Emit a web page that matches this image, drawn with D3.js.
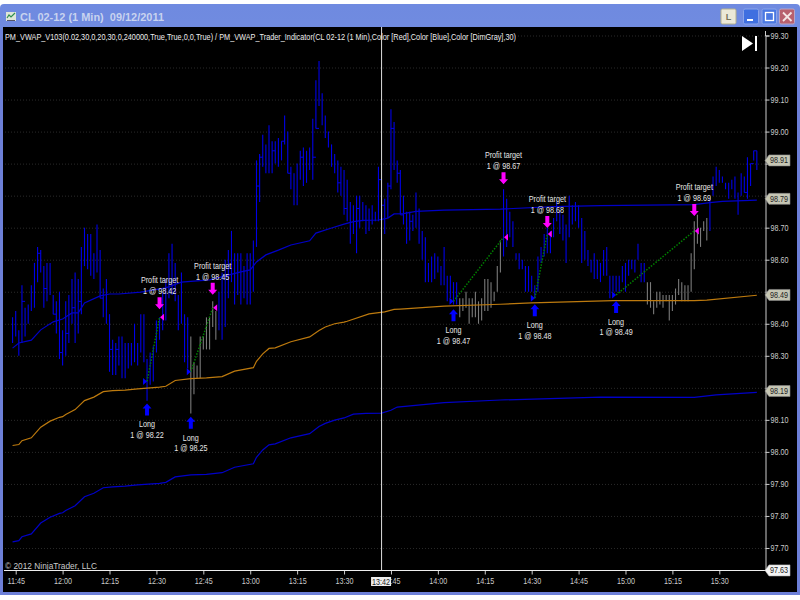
<!DOCTYPE html>
<html><head><meta charset="utf-8">
<script src="https://cdn.jsdelivr.net/npm/d3@7"></script>
<style>html,body{margin:0;padding:0;background:#fff}svg{display:block}
text{font-family:"Liberation Sans",Arial,sans-serif;white-space:pre}</style></head>
<body><div id="chart"></div>
<script>
const titleText = "CL 02-12 (1 Min)  09/12/2011";
const indicatorText = "PM_VWAP_V103(0.02,30,0,20,30,0,240000,True,True,0,0,True) / PM_VWAP_Trader_Indicator(CL 02-12 (1 Min),Color [Red],Color [Blue],Color [DimGray],30)";
const copyrightText = "\u00a9 2012 NinjaTrader, LLC";
const priceTicks = [99.3,99.2,99.1,99.0,98.9,98.8,98.7,98.6,98.5,98.4,98.3,98.2,98.1,98.0,97.9,97.8,97.7];
const timeTicks = ["11:45","12:00","12:15","12:30","12:45","13:00","13:15","13:30","13:45","14:00","14:15","14:30","14:45","15:00","15:15","15:30"];
const firstBar = "11:44";
const highs = [
98.42,98.44,98.38,98.52,98.45,98.46,98.52,98.59,98.64,98.63,98.58,98.59,98.59,98.49,98.47,98.50,
98.38,98.47,98.49,98.54,98.56,98.54,98.64,98.70,98.68,98.68,98.62,98.71,98.63,98.51,98.54,
98.43,98.35,98.34,98.36,98.36,98.34,98.34,98.34,98.40,98.34,98.43,98.43,98.29,98.31,98.33,
98.41,98.42,98.50,98.54,98.62,98.65,98.59,98.49,98.56,98.43,98.42,
98.36,98.28,98.27,98.36,98.36,98.42,98.42,98.47,98.44,
98.50,98.56,98.60,98.63,98.69,98.62,98.62,98.62,98.58,98.62,
98.62,98.66,98.91,98.93,98.99,98.96,99.02,98.97,98.97,98.98,98.97,99.05,99.00,98.89,98.87,
98.90,98.94,98.95,98.94,98.95,99.04,99.16,99.22,99.12,99.05,99.00,98.96,98.93,98.91,98.89,
98.88,98.85,98.78,98.77,98.80,98.80,98.78,98.77,98.76,98.77,98.75,98.89,98.76,98.79,98.84,
99.07,99.03,98.91,98.88,98.80,98.75,98.75,98.74,98.81,98.76,98.69,98.67,98.59,98.61,98.62,
98.61,98.58,98.64,98.55,98.55,98.53,98.53,
98.48,98.48,98.50,98.48,98.48,98.50,98.47,98.48,98.54,98.54,98.53,98.50,98.58,98.66,
98.82,98.79,98.75,98.72,98.62,98.62,98.60,98.58,98.58,98.55,98.52,98.61,98.64,98.68,98.70,
98.69,98.73,98.78,98.75,98.74,98.71,98.80,98.77,98.78,98.77,98.73,98.69,98.63,98.60,98.62,
98.60,98.59,98.63,98.64,98.55,98.55,98.55,98.55,98.58,98.59,98.60,98.60,98.60,98.65,98.59,98.59,
98.53,98.53,98.47,98.50,98.50,98.49,98.49,98.49,98.49,98.51,98.54,98.53,98.52,98.52,98.62,98.72,98.74,98.70,98.72,98.73,
98.79,98.86,98.89,98.88,98.86,98.84,98.84,98.85,98.86,98.81,98.87,98.86,98.92,98.90,98.94,98.94];
const lows = [
98.34,98.36,98.30,98.34,98.36,98.40,98.44,98.45,98.53,98.56,98.45,98.47,98.49,98.43,98.37,98.29,
98.27,98.30,98.34,98.40,98.34,98.37,98.43,98.58,98.57,98.55,98.54,98.56,98.48,98.42,98.40,
98.25,98.24,98.24,98.27,98.23,98.23,98.26,98.27,98.28,98.27,98.31,98.28,98.16,98.21,98.22,
98.31,98.35,98.38,98.41,98.48,98.49,98.47,98.38,98.40,98.28,98.26,
98.12,98.18,98.23,98.23,98.32,98.32,98.32,98.39,98.35,
98.38,98.35,98.39,98.48,98.53,98.46,98.49,98.46,98.48,98.46,
98.46,98.50,98.64,98.78,98.89,98.87,98.87,98.87,98.90,98.89,98.91,98.96,98.87,98.82,98.77,
98.77,98.85,98.83,98.84,98.88,98.85,99.01,99.08,99.02,98.98,98.95,98.89,98.87,98.81,98.80,
98.74,98.72,98.65,98.68,98.62,98.70,98.72,98.68,98.69,98.71,98.72,98.72,98.72,98.68,98.73,
98.82,98.88,98.84,98.74,98.71,98.65,98.66,98.69,98.70,98.65,98.60,98.53,98.53,98.53,98.54,
98.56,98.52,98.52,98.47,98.48,98.46,98.46,
98.42,98.44,98.45,98.40,98.42,98.42,98.40,98.41,98.44,98.44,98.45,98.47,98.50,98.56,
98.61,98.64,98.67,98.64,98.60,98.57,98.57,98.50,98.50,98.50,98.48,98.50,98.59,98.61,98.62,
98.62,98.67,98.72,98.68,98.66,98.59,98.67,98.71,98.72,98.70,98.59,98.60,98.58,98.56,98.54,
98.54,98.53,98.55,98.55,98.48,98.50,98.50,98.50,98.53,98.50,98.55,98.57,98.56,98.60,98.53,98.53,
98.46,98.45,98.43,98.45,98.46,98.45,98.47,98.41,98.44,98.46,98.49,98.47,98.47,98.47,98.50,98.57,98.65,98.64,98.69,98.66,
98.69,98.80,98.83,98.84,98.84,98.82,98.79,98.82,98.79,98.74,98.80,98.81,98.79,98.83,98.91,98.88];
const greyBarRuns = [["12:41","12:49"],["14:07","14:20"],["15:07","15:26"]];
// the close ticks that can be made out on the bars
const closeTickTimes = ["11:47","11:52","11:54","11:57","11:59","12:01","12:03","12:05","12:12","12:15","12:17","13:02","13:03","13:07","13:10","13:12","13:16","13:20","13:21","13:28","13:30","13:34","13:41","13:42","13:44","13:45","13:47","13:48","13:51","15:38","15:40","15:41"];
const closeTickPrices = [98.47,98.62,98.51,98.43,98.31,98.37,98.45,98.47,98.48,98.32,98.32,98.83,98.92,98.94,98.97,98.87,98.92,98.92,99.01,98.84,98.76,98.76,98.85,98.77,98.83,99.01,98.87,98.74,98.72,98.81,98.90,98.94];

const upperMinutes = [0,2,6,9,13,16,19,21,23,28,31,34,41,49,54,63,73,76,78,81,85,89,95,97,102,106,109,112,117,120,122,125,129,138,156,173,188,218,223,227,238];
const upperPrices = [98.324,98.340,98.349,98.381,98.406,98.415,98.434,98.434,98.465,98.487,98.493,98.493,98.499,98.512,98.530,98.537,98.562,98.568,98.593,98.615,98.630,98.646,98.659,98.683,98.699,98.711,98.719,98.723,98.724,98.730,98.743,98.744,98.751,98.755,98.758,98.766,98.769,98.772,98.778,98.782,98.786];
const midMinutes = [0,2,3,6,9,12,15,16,17,20,23,26,29,32,36,40,47,49,52,57,62,67,71,77,78,80,82,84,89,95,98,100,103,106,107,114,119,122,124,138,156,166,192,218,222,238];
const midPrices = [98.020,98.023,98.035,98.044,98.077,98.096,98.108,98.110,98.117,98.132,98.160,98.171,98.188,98.191,98.193,98.197,98.202,98.205,98.223,98.229,98.231,98.235,98.252,98.263,98.283,98.306,98.323,98.325,98.344,98.359,98.379,98.390,98.400,98.405,98.408,98.431,98.437,98.445,98.446,98.455,98.461,98.465,98.472,98.472,98.474,98.489];
const lowerMinutes = [0,2,3,6,9,12,15,16,17,20,23,26,29,32,36,40,47,49,52,57,62,67,71,77,78,80,82,84,89,95,98,100,103,106,109,113,118,121,123,138,156,188,218,225,238];
const lowerPrices = [97.719,97.723,97.735,97.744,97.778,97.796,97.808,97.810,97.817,97.832,97.860,97.871,97.888,97.891,97.893,97.897,97.902,97.905,97.922,97.928,97.930,97.935,97.952,97.963,97.983,98.006,98.022,98.025,98.044,98.057,98.079,98.089,98.099,98.106,98.118,98.120,98.121,98.130,98.140,98.154,98.162,98.171,98.170,98.178,98.186];

const entryTimes = ["12:27","12:41","14:05","14:31","14:57"];
const entryPrices = [98.22,98.25,98.47,98.48,98.49];
const exitTimes = ["12:31","12:48","14:21","14:35","15:22"];
const exitPrices = [98.42,98.45,98.67,98.68,98.69];
const priceFlags = [98.91,98.79,98.49,98.19];
const lastLowFlag = 97.63;
const cursorTime = "13:42";

const W = 800, H = 600;
const parseT = s => { const [h,m] = s.split(":").map(Number); return new Date(2011,8,12,h,m); };
const t0 = parseT(firstBar);
const atMin = m => d3.timeMinute.offset(t0, m);
const x = d3.scaleTime().domain([parseT("11:45"), parseT("15:30")]).range([15.7, 719.3]);
const y = d3.scaleLinear().domain([99.3, 97.63]).range([35.5, 570.4]);
const fmt = d3.format(".2f");

const svg = d3.select("#chart").append("svg").attr("width",W).attr("height",H);
const defs = svg.append("defs");
const g1 = defs.append("linearGradient").attr("id","tb").attr("x1",0).attr("x2",0).attr("y1",0).attr("y2",1);
g1.append("stop").attr("offset",0).attr("stop-color","#6f8ae0");
g1.append("stop").attr("offset",0.5).attr("stop-color","#7e98e0");
g1.append("stop").attr("offset",1).attr("stop-color","#7590dc");

// window frame
svg.append("rect").attr("x",0).attr("y",4).attr("width",W).attr("height",591).attr("rx",4).attr("fill","url(#tb)");
svg.append("rect").attr("x",0).attr("y",30).attr("width",W).attr("height",565).attr("fill","#6d80d8");
svg.append("rect").attr("x",3).attr("y",27).attr("width",794).attr("height",565).attr("fill","#000");

// title bar
svg.append("g").attr("transform","translate(6,12)").call(s=>{
  s.append("rect").attr("width",10).attr("height",9).attr("fill","#dfe6d8");
  s.append("path").attr("d","M1 6L3 3L5 5L9 1").attr("fill","none").attr("stroke","#2f8f4f").attr("stroke-width",1.2);
  s.append("path").attr("d","M1 8.5H9").attr("stroke","#556").attr("stroke-width",1);
});
svg.append("text").attr("class","fixed").text(titleText).attr("x",20).attr("y",21)
  .attr("textLength",144).attr("lengthAdjust","spacingAndGlyphs")
  .style("font-weight","bold").style("font-size","10.5px").attr("fill","#c9d4f0");
const btn=(bx,w,fill,stroke)=>svg.append("rect").attr("x",bx).attr("y",9).attr("width",w).attr("height",15).attr("rx",1.5).attr("fill",fill).attr("stroke",stroke).attr("stroke-width",1);
btn(721,15,"#ece9d8","#b5b08c");
svg.append("text").attr("class","fixed").text("L").attr("x",728.5).attr("y",20).attr("text-anchor","middle").style("font-size","9px").style("font-weight","bold").attr("fill","#77745c");
btn(743.5,15,"#3f6fe0","#8aa4ea");
svg.append("rect").attr("x",747).attr("y",19).attr("width",6).attr("height",2).attr("fill","#fff");
btn(762,14.5,"#4a78e2","#8aa4ea");
svg.append("rect").attr("x",765.5).attr("y",12.5).attr("width",8).attr("height",8).attr("fill","none").attr("stroke","#fff").attr("stroke-width",1.3);
btn(779.5,15,"#b8606e","#b9a4c4");
svg.append("path").attr("d","M783 12.5L791.5 21M791.5 12.5L783 21").attr("stroke","#f4e4e4").attr("stroke-width",1.8);

// grid
svg.append("g").attr("transform","translate(5,0)")
  .call(d3.axisRight(y).tickValues(priceTicks).tickSize(760).tickFormat(""))
  .call(g=>g.select(".domain").remove())
  .call(g=>g.selectAll("line").attr("stroke","#2a2a2a").attr("stroke-dasharray","1,2"));

// indicator line and copyright
svg.append("text").attr("class","fixed").text(indicatorText).attr("x",5).attr("y",40).attr("textLength",511).attr("lengthAdjust","spacingAndGlyphs")
  .style("font-size","9px").attr("fill","#eee");
svg.append("text").attr("class","fixed").text(copyrightText).attr("x",5).attr("y",569).attr("textLength",92).attr("lengthAdjust","spacingAndGlyphs")
  .style("font-size","9px").attr("fill","#ccc");

// bars
const greyRuns = greyBarRuns.map(r=>r.map(parseT));
const isGreyT = t => greyRuns.some(r=>t>=r[0]&&t<=r[1]);
const bars = highs.map((h,i)=>({t:atMin(i),h,l:lows[i]}));
const barColor = t => isGreyT(t)?"#7a7a7a":"#0000e6";
svg.append("g").selectAll("line").data(bars).join("line")
  .attr("x1",d=>x(d.t)).attr("x2",d=>x(d.t)).attr("y1",d=>y(d.h)).attr("y2",d=>y(d.l))
  .attr("stroke",d=>barColor(d.t)).attr("stroke-width",1.1);
svg.append("g").selectAll("line").data(closeTickTimes.map((t,i)=>({t:parseT(t),p:closeTickPrices[i]}))).join("line")
  .attr("x1",d=>x(d.t)).attr("x2",d=>x(d3.timeMinute.offset(d.t,1))).attr("y1",d=>y(d.p)).attr("y2",d=>y(d.p))
  .attr("stroke",d=>barColor(d.t)).attr("stroke-width",1);

// VWAP bands
const mkLine = (mins,prices,color,w)=>svg.append("path")
  .datum(mins.map((m,i)=>[atMin(m),prices[i]]))
  .attr("d",d3.line().x(d=>x(d[0])).y(d=>y(d[1])))
  .attr("fill","none").attr("stroke",color).attr("stroke-width",w);
mkLine(upperMinutes,upperPrices,"#0000c8",1.2);
mkLine(midMinutes,midPrices,"#bd7a0e",1.2);
mkLine(lowerMinutes,lowerPrices,"#0000c8",1.2);

// trades
const upArrow = (cx,top)=>`M${cx} ${top}L${cx+4.5} ${top+5}H${cx+2}V${top+12}H${cx-2}V${top+5}H${cx-4.5}Z`;
const downArrow = (cx,bot)=>`M${cx} ${bot}L${cx+4.5} ${bot-5}H${cx+2}V${bot-12}H${cx-2}V${bot-5}H${cx-4.5}Z`;
const label = (cx,yy,t)=>svg.append("text").text(t).attr("x",cx).attr("y",yy).attr("text-anchor","middle").style("font-size","9px").attr("fill","#e8e8e8");
// vertical distance of the arrow below each entry marker and above each exit marker
const entryGap = [22,45,8,6,6];
const exitGap = [8,13,53,6,15];
entryTimes.forEach((t,i)=>{
  const ex=x(parseT(t)), ey=y(entryPrices[i]);
  const xx=x(parseT(exitTimes[i])), xy=y(exitPrices[i]);
  svg.append("line").attr("x1",ex).attr("y1",ey).attr("x2",xx).attr("y2",xy)
    .attr("stroke","#008000").attr("stroke-width",1.5).attr("stroke-dasharray","1.5,1.5");
  svg.append("path").attr("d",`M${ex} ${ey}L${ex-4} ${ey-3.5}V${ey+3.5}Z`).attr("fill","#0000ff");
  svg.append("path").attr("d",`M${xx+0.5} ${xy}L${xx+4.5} ${xy-3.5}V${xy+3.5}Z`).attr("fill","#ff00ff");
  const at=ey+entryGap[i];
  svg.append("path").attr("d",upArrow(ex,at)).attr("fill","#0000ff");
  label(ex,at+24,"Long");
  label(ex,at+34.5,"1 @ "+fmt(entryPrices[i]));
  const ab=xy-exitGap[i];
  svg.append("path").attr("d",downArrow(xx,ab)).attr("fill","#ff00ff");
  label(xx,ab-26,"Profit target");
  label(xx,ab-15,"1 @ "+fmt(exitPrices[i]));
});

// cursor
const cx = x(parseT(cursorTime));
svg.append("line").attr("x1",cx).attr("x2",cx).attr("y1",27).attr("y2",570).attr("stroke","#ddd").attr("stroke-width",1);

// axes: a tick label covered by a price flag stays hidden, as in the chart
const coveredByFlag = p => priceFlags.some(f=>Math.abs(f-p)<0.05);
const yAxis = svg.append("g").attr("transform","translate(765.5,0)")
  .call(d3.axisRight(y).tickValues(priceTicks).tickSize(4).tickPadding(1).tickFormat(p=>coveredByFlag(p)?"":fmt(p)));
yAxis.select(".domain").attr("stroke","#ccc");
yAxis.selectAll("line").attr("stroke","#ccc");
yAxis.selectAll("text").attr("fill","#ccc").style("font-size","9px").style("font-family",null);
svg.append("line").attr("x1",765.5).attr("x2",765.5).attr("y1",31).attr("y2",36).attr("stroke","#ccc");

const xAxis = svg.append("g").attr("transform","translate(0,570.5)")
  .call(d3.axisBottom(x).tickValues(timeTicks.map(parseT)).tickSize(4).tickPadding(3).tickFormat(d3.timeFormat("%H:%M")));
xAxis.select(".domain").remove();
xAxis.selectAll("line").attr("stroke","#ccc");
xAxis.selectAll("text").attr("fill","#ccc").style("font-size","9px").style("font-family",null);
svg.append("line").attr("x1",4).attr("x2",766).attr("y1",570.5).attr("y2",570.5).attr("stroke","#eee").attr("stroke-width",1.2);

// cursor tag
svg.append("rect").attr("x",cx-10.5).attr("y",577).attr("width",20).attr("height",9).attr("fill","#eee");
svg.append("text").text(cursorTime).attr("x",cx-0.5).attr("y",584.5).attr("text-anchor","middle").style("font-size","9px").attr("fill","#222");

// price flags
const flag=(p,fill,stroke)=>{
  const yy=y(p), l=767, r=790, h=5.5;
  svg.append("path").attr("d",`M${l-2} ${yy}L${l+2} ${yy-h}H${r}V${yy+h}H${l+2}Z`).attr("fill",fill).attr("stroke",stroke).attr("stroke-width",0.6);
  svg.append("text").text(fmt(p)).attr("x",779).attr("y",yy+3).attr("text-anchor","middle").style("font-size","9px").attr("fill","#222");
};
priceFlags.forEach(p=>flag(p,"#c6c6b4","#888"));
flag(lastLowFlag,"#f4f4f4","#bbb");

// scroll-to-end icon
svg.append("path").attr("d","M742 36L753 43.5L742 51Z").attr("fill","#fff");
svg.append("rect").attr("x",755).attr("y",36).attr("width",2).attr("height",15).attr("fill","#fff");

// the chart's labels use a condensed face: fit each label to that narrower measure
svg.selectAll("text:not(.fixed)").each(function(){
  const w=this.getComputedTextLength();
  if(w>0){ d3.select(this).attr("textLength",w*0.8).attr("lengthAdjust","spacingAndGlyphs"); }
});
// grey, not coloured, edge smoothing on the labels
svg.selectAll("text").style("opacity",0.995);
</script></body></html>
